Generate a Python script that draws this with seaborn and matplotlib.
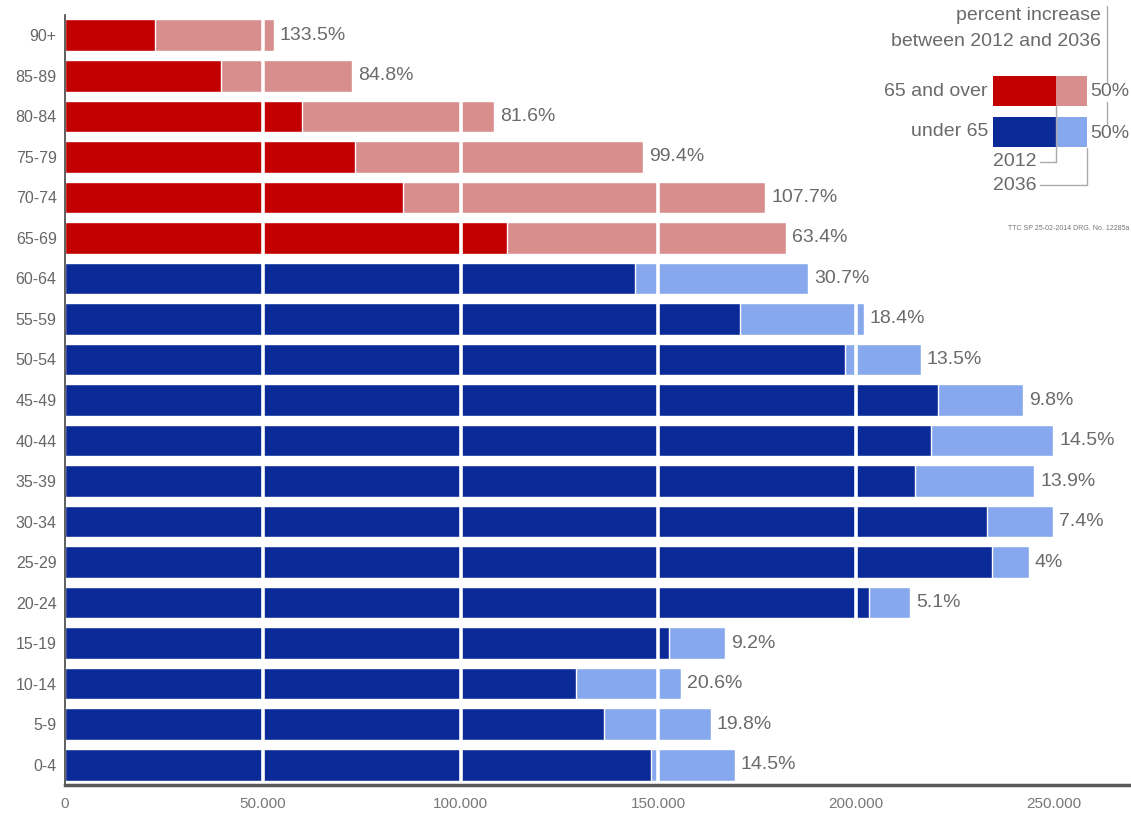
import matplotlib
matplotlib.use("Agg")
import matplotlib.pyplot as plt
from matplotlib.patches import Rectangle
from matplotlib.lines import Line2D
import matplotlib.ticker as mticker
import seaborn as sns
import pandas as pd

# ---- data ----
ages = ["90+", "85-89", "80-84", "75-79", "70-74", "65-69", "60-64", "55-59",
        "50-54", "45-49", "40-44", "35-39", "30-34", "25-29", "20-24", "15-19",
        "10-14", "5-9", "0-4"]
pop_2012 = [22.7, 39.4, 59.9, 73.3, 85.5, 111.8, 144.1, 170.7, 197.2, 220.7,
            219.0, 214.9, 233.1, 234.4, 203.3, 152.7, 129.2, 136.3, 148.2]
pop_2036 = [52.8, 72.6, 108.5, 146.1, 177.0, 182.3, 187.9, 202.0, 216.4, 242.2,
            249.8, 245.0, 249.8, 243.7, 213.7, 166.9, 155.8, 163.3, 169.4]
pct_labels = ["133.5%", "84.8%", "81.6%", "99.4%", "107.7%", "63.4%", "30.7%",
              "18.4%", "13.5%", "9.8%", "14.5%", "13.9%", "7.4%", "4%", "5.1%",
              "9.2%", "20.6%", "19.8%", "14.5%"]
groups = ["65 and over"] * 6 + ["under 65"] * 13
x_ticks = [0, 50000, 100000, 150000, 200000, 250000]
grid_lines = [50000, 100000, 150000, 200000]

df = pd.DataFrame({
    "age": ages,
    "y2012": [v * 1000 for v in pop_2012],
    "y2036": [v * 1000 for v in pop_2036],
    "group": groups,
    "pct": pct_labels,
})

DARK = {"65 and over": "#C20000", "under 65": "#0A2B97"}
LIGHT = {"65 and over": "#D98E8E", "under 65": "#88A8EE"}

sns.set_theme(style="white")
plt.rcParams["font.family"] = ["Liberation Sans", "DejaVu Sans"]

W, H = 1131, 819
fig = plt.figure(figsize=(W / 100, H / 100), dpi=100)
ax = fig.add_axes([65 / W, 1 - 785 / H, 1 - 65 / W, (785 - 15) / H])

sns.barplot(data=df, y="age", x="y2036", hue="group", palette=LIGHT,
            dodge=False, width=0.78, legend=False, ax=ax, orient="h",
            saturation=1, zorder=1)
sns.barplot(data=df, y="age", x="y2012", hue="group", palette=DARK,
            dodge=False, width=0.78, legend=False, ax=ax, orient="h",
            saturation=1, zorder=2)

ax.set_xlim(0, 269500)
ax.set_ylim(18.5, -0.5)
for xv in grid_lines:
    ax.axvline(xv, ymin=0.005, ymax=1, color="white", lw=2.6, zorder=3)

txt_col = "#6a6a6a"
for i, row in df.iterrows():
    ax.text(row["y2036"] + 1500, i, row["pct"], va="center", ha="left",
            fontsize=14, color=txt_col, zorder=4)

ax.set_xticks(x_ticks)
ax.xaxis.set_major_formatter(mticker.FuncFormatter(
    lambda v, p: "0" if v == 0 else f"{int(v):,}".replace(",", ".")))
ax.tick_params(axis="x", length=0, pad=9, labelsize=11, colors="#777777")
ax.tick_params(axis="y", length=0, pad=6, labelsize=11.5, colors="#666666")
ax.set_xlabel("")
ax.set_ylabel("")
for s in ["top", "right"]:
    ax.spines[s].set_visible(False)
ax.spines["left"].set_color("#444444")
ax.spines["left"].set_linewidth(1.2)
ax.spines["bottom"].set_color("#5a5a5a")
ax.spines["bottom"].set_linewidth(2.5)
ax.spines["bottom"].set_zorder(5)

# ---- custom legend (figure pixel coordinates) ----
def fx(px):
    return px / W

def fy(py):
    return 1 - py / H

fs = 14
fig.text(fx(1101), fy(16), "percent increase", ha="right", va="center",
         fontsize=fs, color=txt_col)
fig.text(fx(1101), fy(41), "between 2012 and 2036", ha="right", va="center",
         fontsize=fs, color=txt_col)
line_col = "#AAAAAA"
fig.add_artist(Line2D([fx(1107), fx(1107)], [fy(6), fy(82)], color=line_col, lw=1))
fig.add_artist(Line2D([fx(1107), fx(1107)], [fy(102), fy(124)], color=line_col, lw=1))

for (label, top) in [("65 and over", 76), ("under 65", 117)]:
    fig.add_artist(Rectangle((fx(993), fy(top + 30)), fx(1056) - fx(993),
                             30 / H, color=DARK[label], lw=0))
    fig.add_artist(Rectangle((fx(1056), fy(top + 30)), fx(1087) - fx(1056),
                             30 / H, color=LIGHT[label], lw=0))
    fig.text(fx(988), fy(top + 15), label, ha="right", va="center",
             fontsize=fs, color=txt_col)
    fig.text(fx(1090), fy(top + 16), "50%", ha="left", va="center",
             fontsize=fs, color=txt_col)

fig.text(fx(993), fy(162), "2012", ha="left", va="center", fontsize=fs, color=txt_col)
fig.text(fx(993), fy(185), "2036", ha="left", va="center", fontsize=fs, color=txt_col)
fig.add_artist(Line2D([fx(1040), fx(1056), fx(1056)], [fy(162), fy(162), fy(106)],
                      color=line_col, lw=1))
fig.add_artist(Line2D([fx(1040), fx(1087), fx(1087)], [fy(185), fy(185), fy(148)],
                      color=line_col, lw=1))
fig.text(fx(1129), fy(228), "TTC SP 25-02-2014 DRG. No. 12285a", ha="right",
         va="center", fontsize=5, color="#777777")

fig.savefig("out.png", dpi=100)
